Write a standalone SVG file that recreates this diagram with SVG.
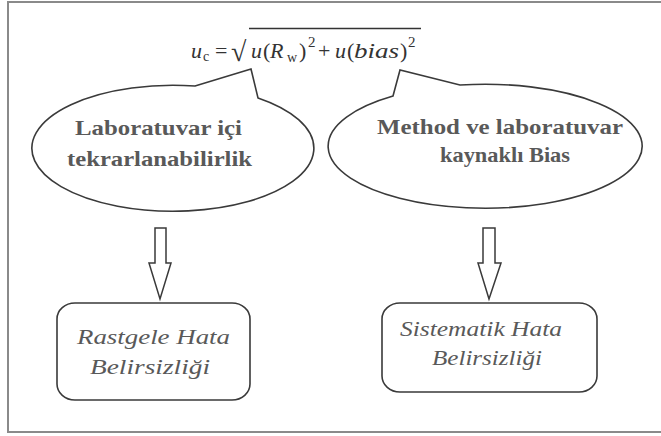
<svg xmlns="http://www.w3.org/2000/svg" width="661" height="436" viewBox="0 0 661 436" font-family="Liberation Serif, Times New Roman, serif">
<style>
.frame{fill:none;stroke:#8a8a8a;stroke-width:2}
.shape{fill:#fff;stroke:#3a3a3a;stroke-width:1.6}
.arrow{fill:#fff;stroke:#3a3a3a;stroke-width:1.5}
.lbl{font-weight:bold;font-size:22px;fill:#595959;text-anchor:middle}
.it{font-style:italic;font-size:22px;fill:#595959;text-anchor:middle}
.f{font-size:22px;fill:#333}
.fi{font-style:italic;font-size:22px;fill:#333}
.sub{font-size:14px;fill:#333}
.sup{font-size:15px;fill:#333}
.rad{font-size:28px;fill:#333}
</style>
<rect x="0" y="0" width="661" height="436" fill="#fff"/>
<path class="frame" d="M8,433 L8,2 L661,2 M8,432 L661,432"/>
<g id="formula">
<text class="fi" x="191" y="58">u</text>
<text class="sub" x="203" y="61">c</text>
<text class="f" x="215" y="58">=</text>
<text class="rad" x="231" y="61">√</text>
<line x1="249" y1="28.5" x2="421" y2="28.5" stroke="#333" stroke-width="1.3"/>
<text class="fi" x="251" y="58">u</text>
<text class="f" x="263" y="58">(</text>
<text class="fi" x="270" y="58">R</text>
<text class="sub" x="287" y="62">w</text>
<text class="f" x="299" y="58">)</text>
<text class="sup" x="308" y="47">2</text>
<text class="f" x="318" y="58">+</text>
<text class="fi" x="335" y="58">u</text>
<text class="f" x="347" y="58">(</text>
<text class="fi" x="354" y="58" textLength="45" lengthAdjust="spacingAndGlyphs">bias</text>
<text class="f" x="400" y="58">)</text>
<text class="sup" x="408" y="47">2</text>
</g>
<g id="callout-left">
<path class="shape" d="M195,86 L251,69 L258,98 A141 63 0 1 1 195,86 Z"/>
<text class="lbl" x="158.5" y="135" textLength="167" lengthAdjust="spacingAndGlyphs">Laboratuvar içi</text>
<text class="lbl" x="159.5" y="166" textLength="185" lengthAdjust="spacingAndGlyphs">tekrarlanabilirlik</text>
</g>
<g id="callout-right">
<path class="shape" d="M393,96 L400,70 L460,85 A157 62 0 1 1 393,96 Z"/>
<text class="lbl" x="500" y="134" textLength="246" lengthAdjust="spacingAndGlyphs">Method ve laboratuvar</text>
<text class="lbl" x="505" y="162" textLength="130" lengthAdjust="spacingAndGlyphs">kaynaklı Bias</text>
</g>
<g id="connectors">
<path class="arrow" d="M155,228 L166,228 L166,263 L171,263 L160,299 L149,263 L155,263 Z"/>
<path class="arrow" d="M483,228 L495,228 L495,263 L501,263 L489,299 L478,263 L483,263 Z"/>
</g>
<g id="box-left">
<rect class="shape" x="57" y="303" width="193" height="97" rx="18" ry="16"/>
<text class="it" x="153.5" y="344" textLength="153" lengthAdjust="spacingAndGlyphs">Rastgele Hata</text>
<text class="it" x="150" y="374" textLength="120" lengthAdjust="spacingAndGlyphs">Belirsizliği</text>
</g>
<g id="box-right">
<rect class="shape" x="382" y="303" width="215" height="89" rx="18" ry="16"/>
<text class="it" x="481" y="336" textLength="162" lengthAdjust="spacingAndGlyphs">Sistematik Hata</text>
<text class="it" x="487" y="365" textLength="110" lengthAdjust="spacingAndGlyphs">Belirsizliği</text>
</g>
</svg>
